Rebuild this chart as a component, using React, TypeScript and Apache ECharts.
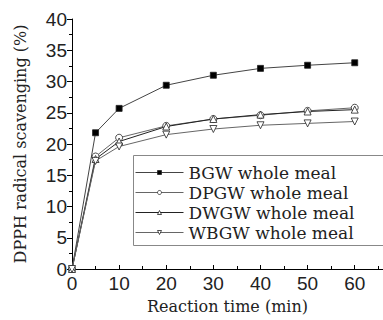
import React, { useEffect, useRef } from "react";
import * as echarts from "echarts";

const times = [0, 5, 10, 20, 30, 40, 50, 60];
const seriesNames = ["BGW whole meal", "DPGW whole meal", "DWGW whole meal", "WBGW whole meal"];
const bgw = [0, 21.8, 25.7, 29.4, 31.0, 32.1, 32.6, 33.0];
const dpgw = [0, 18.0, 21.0, 22.9, 24.0, 24.6, 25.3, 25.8];
const dwgw = [0, 17.6, 20.4, 22.8, 24.0, 24.7, 25.2, 25.5];
const wbgw = [0, 17.3, 19.6, 21.5, 22.4, 23.0, 23.3, 23.6];
const xTicks = [0, 10, 20, 30, 40, 50, 60];

export default function App() {
  const ref = useRef<HTMLDivElement>(null);
  useEffect(() => {
    const chart = echarts.init(ref.current!, null, { renderer: "svg" });
    const mk = (name: string, vals: number[], symbol: string, filled: boolean, rotate: number, color: string) => ({
      name,
      type: "line",
      data: times.map((t, i) => [t, vals[i]]),
      symbol,
      symbolSize: symbol === "rect" ? 6 : 7,
      symbolRotate: rotate,
      showAllSymbol: true,
      lineStyle: { color, width: 1 },
      itemStyle: { color: filled ? "#000" : "#fff", borderColor: "#222", borderWidth: 0.8 },
      emphasis: { disabled: true },
    });
    chart.setOption({
      animation: false,
      grid: { left: 72, top: 19, right: 0, bottom: 51, containLabel: false },
      graphic: [
        {
          type: "rect",
          x: 133.5,
          y: 155.5,
          shape: { x: 0, y: 0, width: 270, height: 90 },
          style: { fill: "#fff", stroke: "#888", lineWidth: 1 },
          z: 5,
        },
      ],
      legend: {
        orient: "vertical",
        left: 133,
        top: 155,
        padding: [9, 10, 8, 2],
        itemGap: 3,
        itemWidth: 48,
        itemHeight: 5,
        itemStyle: { borderWidth: 0.8 },
        lineStyle: { width: 1 },
        z: 10,
        textStyle: { fontFamily: "DejaVu Serif", fontSize: 17, color: "#222", lineHeight: 16 },
        data: seriesNames,
      },
      xAxis: {
        type: "value",
        min: 0,
        max: 66,
        interval: 10,
        name: "Reaction time (min)",
        nameLocation: "middle",
        nameGap: 29,
        nameTextStyle: { fontFamily: "DejaVu Serif", fontSize: 16, color: "#222" },
        axisLine: { lineStyle: { color: "#000", width: 1 } },
        axisTick: { inside: true, length: 4, lineStyle: { color: "#000" } },
        minorTick: { show: true, splitNumber: 2, length: 3, lineStyle: { color: "#000" } },
        splitLine: { show: false },
        axisLabel: {
          fontFamily: "Liberation Sans",
          fontSize: 19,
          color: "#222",
          margin: 5,
          showMaxLabel: false,
          formatter: (v: number) => (xTicks.includes(v) ? String(v) : ""),
        },
      },
      yAxis: {
        type: "value",
        min: 0,
        max: 40,
        interval: 5,
        name: "DPPH radical scavenging (%)",
        nameLocation: "middle",
        nameGap: 44,
        nameTextStyle: { fontFamily: "DejaVu Serif", fontSize: 16, color: "#222" },
        axisLine: { show: true, lineStyle: { color: "#000", width: 1 } },
        axisTick: { show: true, length: 5, lineStyle: { color: "#000" } },
        minorTick: { show: true, splitNumber: 2, length: 3, lineStyle: { color: "#000" } },
        splitLine: { show: false },
        axisLabel: { fontFamily: "Liberation Sans", fontSize: 19, color: "#222", margin: 5 },
      },
      series: [
        mk(seriesNames[0], bgw, "rect", true, 0, "#444"),
        mk(seriesNames[1], dpgw, "circle", false, 0, "#666"),
        mk(seriesNames[2], dwgw, "triangle", false, 0, "#222"),
        mk(seriesNames[3], wbgw, "triangle", false, 180, "#666"),
      ],
    });
    return () => chart.dispose();
  }, []);
  return (
    <div
      ref={ref}
      style={{ position: "fixed", left: 0, top: 0, width: 383, height: 320, background: "#fff" }}
    />
  );
}
